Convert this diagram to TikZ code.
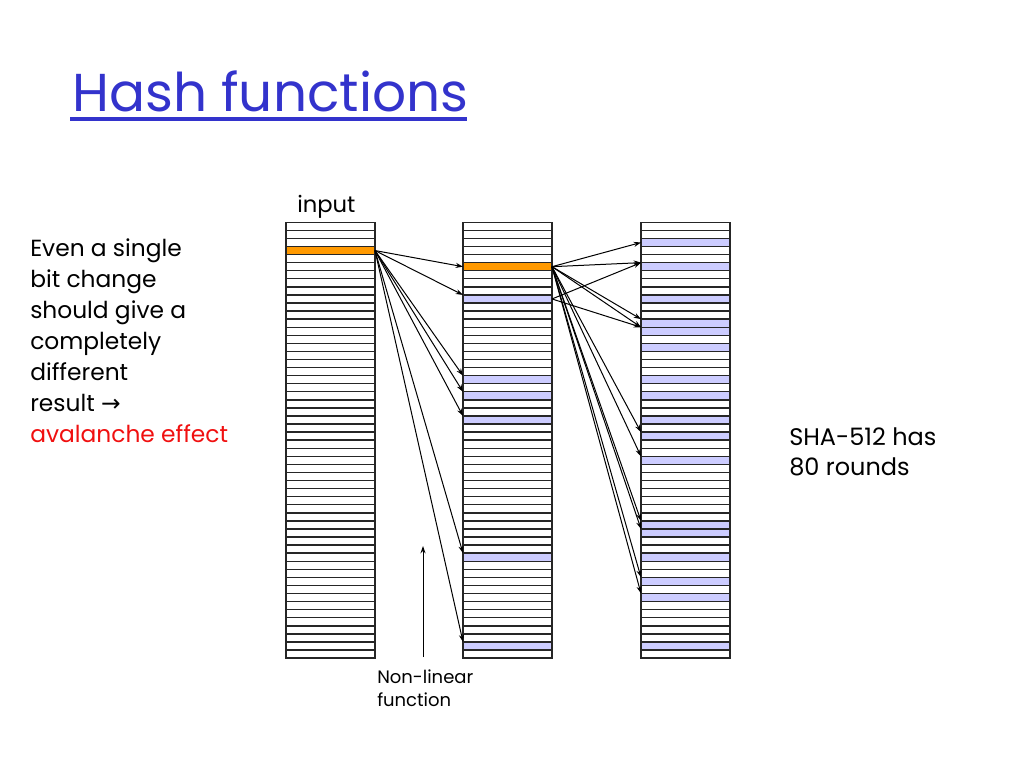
\documentclass[tikz,border=0pt]{standalone}
\usepackage{fontspec}
\setmainfont{Poppins}
\newfontfamily\symfont{DejaVu Sans}
\usetikzlibrary{arrows.meta}
\definecolor{titleblue}{RGB}{51,51,204}
\definecolor{hashorange}{RGB}{255,153,0}
\definecolor{hashblue}{RGB}{204,204,255}
\definecolor{effectred}{RGB}{240,16,16}
\begin{document}
\begin{tikzpicture}[x=0.75pt,y=-0.75pt,
  cell/.style={draw=black!85, line width=1.05pt, fill=white, minimum width=66.75pt,
    minimum height=6.05pt, inner sep=0pt, outer sep=0pt},
  hot/.style={fill=hashorange},
  hit/.style={fill=hashblue},
  link/.style={line width=0.75pt, -{Stealth[length=5.5pt,width=3.8pt]}},
  body/.style={font=\fontsize{17.5}{23.2}\selectfont, align=left, inner sep=0pt, anchor=north west},
  rowa-3/.style={hot},
  rowb-5/.style={hot},
  rowb-9/.style={hit}, rowb-19/.style={hit}, rowb-21/.style={hit}, rowb-24/.style={hit},
  rowb-41/.style={hit}, rowb-52/.style={hit},
  rowc-2/.style={hit}, rowc-5/.style={hit}, rowc-9/.style={hit}, rowc-12/.style={hit},
  rowc-13/.style={hit}, rowc-15/.style={hit}, rowc-19/.style={hit}, rowc-21/.style={hit},
  rowc-24/.style={hit}, rowc-26/.style={hit}, rowc-29/.style={hit}, rowc-37/.style={hit},
  rowc-38/.style={hit}, rowc-41/.style={hit}, rowc-44/.style={hit}, rowc-46/.style={hit},
  rowc-52/.style={hit}]
\useasboundingbox (0,0) rectangle (1024,768);

% title
\node[anchor=base west, text=titleblue, font=\fontsize{40}{44}\selectfont, inner sep=0pt] (title) at (72,111.7) {Hash functions};
\draw[titleblue, line width=3pt] (70,119) -- (467,119);

% columns of bits
\foreach \r in {0,...,53} {
  \node[cell, rowa-\r/.try] (a-\r) at (330.5,{222.3+(\r+0.5)*8.07}) {};
  \node[cell, rowb-\r/.try] (b-\r) at (507.5,{222.3+(\r+0.5)*8.07}) {};
  \node[cell, rowc-\r/.try] (c-\r) at (685.5,{222.3+(\r+0.5)*8.07}) {};
}

% texts
\node[anchor=base west, font=\fontsize{17}{20}\selectfont, inner sep=0pt] (input) at (297,212) {input};
\node[body] (note) at (30,238.5) {Even a single\\bit change\\should give a\\completely\\different\\result {\symfont →}\\\textcolor{effectred}{avalanche effect}};
\node[body, font=\fontsize{18}{23}\selectfont] (sha) at (789,427) {SHA-512 has\\80 rounds};
\node[body, font=\fontsize{13.5}{17}\selectfont] (nl) at (377,669.5) {Non-linear\\function};

% first round
\draw[link] (a-3.east) -- (b-5.west);
\foreach \t in {9,19,21,24,41,52} \draw[link] (a-3.east) -- (b-\t.north west);

% second round
\draw[link] (b-5.east) -- (c-2.west);
\foreach \t in {5,12,13,26,29,37,38,44,46} \draw[link] (b-5.east) -- (c-\t.north west);
\draw[link] (b-9.east) -- (c-5.north west);
\draw[link] (b-9.east) -- (c-13.north west);

% non-linear function marker
\coordinate (nltail) at (423,657);
\coordinate (nlhead) at (423,546);
\draw[link] (nltail) -- (nlhead);
\end{tikzpicture}
\end{document}
